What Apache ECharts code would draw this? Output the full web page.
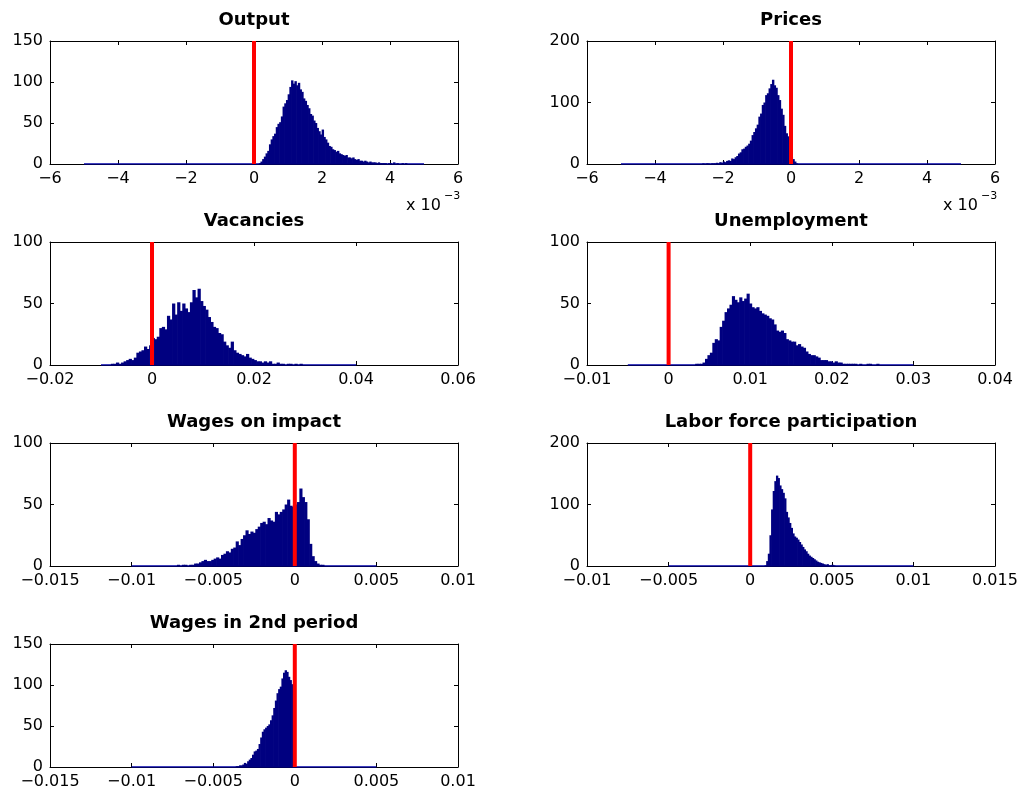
<!DOCTYPE html>
<html><head><meta charset="utf-8">
<script src="https://cdn.jsdelivr.net/npm/echarts@6/dist/echarts.min.js"></script>
<style>html,body{margin:0;padding:0;background:#fff}#c{width:1027px;height:794px}</style>
</head><body><div id="c"></div>
<script>
// ---------- data (histogram counts) ----------
const titles = ['Output','Prices','Vacancies','Unemployment','Wages on impact','Labor force participation','Wages in 2nd period'];

const outputStart = 0.00015, outputWidth = 0.00005;
const outputCounts = [1,3,6,9,13,16,24,30,34,37,45,49,51,58,70,74,78,85,94,102,98,101,96,99,91,88,80,77,72,68,61,59,53,50,44,40,36,42,33,30,26,22,21,18,17,15,16,13,12,11,10,11,8,8,7,8,6,5,6,4,4,3,4,3,2,3,2,2,2,1,2,1,1,1,1,0,1,1,0,2,0,1,0,0,1,0,1];

const pricesStart = -0.0026, pricesWidth = 0.00005;
const pricesCounts = [1,0,1,1,0,1,1,1,2,1,3,2,4,3,5,6,5,9,8,11,13,17,19,24,25,28,30,33,38,47,52,58,64,77,82,96,100,112,115,123,130,137,128,124,112,104,90,80,62,50,45,42,12,8,4,1];

const vacStart = -0.0085, vacWidth = 0.0005;
const vacCounts = [0,1,1,2,1,2,3,4,5,4,6,10,11,12,15,13,16,22,21,23,30,31,29,40,37,50,41,51,44,50,46,43,51,61,55,62,52,48,45,39,35,31,30,26,25,19,16,14,19,12,10,9,8,7,9,6,5,4,3,3,2,3,2,3,1,1,2,1,1,0,1,1,0,1,0,1,0];

const unempStart = 0.0033, unempWidth = 0.0003;
const unempCounts = [1,1,1,2,5,8,10,18,21,20,31,36,43,46,49,56,53,51,55,52,54,58,50,47,46,47,44,42,41,40,38,37,33,28,27,28,26,21,20,19,19,16,17,15,14,11,9,8,8,7,6,4,4,4,3,3,2,3,2,2,1,1,1,1,1,1,0,1,0,0,1,1,0,0,1];

const wageImpStart = -0.00735, wageImpWidth = 0.00015;
const wageImpCounts = [0,1,0,1,1,0,1,1,2,2,3,4,5,4,4,5,6,7,6,9,10,12,11,14,15,20,17,22,25,29,26,28,27,30,32,35,36,34,39,37,36,44,42,44,46,50,54,49,48,50,52,63,56,52,38,18,8,4,2,1,1];

const lfpStart = 0.0009, lfpWidth = 0.0001;
const lfpCounts = [1,8,20,50,92,122,138,147,143,131,125,119,110,88,79,70,62,53,48,46,43,39,35,31,27,24,20,17,15,13,11,9,7,6,5,4,3,2,3,1,1,2,1];

const wage2Start = -0.0037, wage2Width = 0.0001;
const wage2Counts = [0,1,1,2,2,3,5,4,7,9,11,15,19,20,22,28,36,43,46,48,50,52,57,63,72,81,90,95,98,108,115,118,116,110,106,101,98];

// axis ranges / ticks
const xMins  = [-0.006,-0.006,-0.02,-0.01,-0.015,-0.01,-0.015];
const xMaxs  = [0.006,0.006,0.06,0.04,0.01,0.015,0.01];
const xSteps = [0.002,0.002,0.02,0.01,0.005,0.005,0.005];
const xLabelScale = [1000,1000,1,1,1,1,1];
const yMaxs  = [150,200,100,100,100,200,150];
const ySteps = [50,100,50,50,50,100,50];
// range covered by the histogram bins (zero-height bins show as baseline)
const baseFrom = [-0.005,-0.005,-0.01,-0.005,-0.01,-0.005,-0.01];
const baseTo   = [0.005,0.005,0.04,0.03,0.005,0.01,0.005];
const refLine = 0;

const starts = [outputStart,pricesStart,vacStart,unempStart,wageImpStart,lfpStart,wage2Start];
const widths = [outputWidth,pricesWidth,vacWidth,unempWidth,wageImpWidth,lfpWidth,wage2Width];
const countsList = [outputCounts,pricesCounts,vacCounts,unempCounts,wageImpCounts,lfpCounts,wage2Counts];

// ---------- layout ----------
const lefts = [50,587,50,587,50,587,50];
const tops  = [41,41,242,242,443,443,644];
const PW = 408, PH = 123;
const FONT = 'DejaVu Sans';
const BAR = '#000080';

function fmt(v, s) {
  const n = Math.round(v * s * 1e6) / 1e6;
  return String(n).replace('-', '\u2212');
}

const grid = [], xAxis = [], yAxis = [], series = [], graphic = [];
titles.forEach((t, i) => {
  grid.push({left: lefts[i], top: tops[i], width: PW, height: PH, show: false});
  const common = () => ({
    axisLine: {show: true, onZero: false, lineStyle: {color: '#000', width: 1}},
    axisTick: {show: true, inside: true, length: 4, lineStyle: {color: '#000'}},
    splitLine: {show: false}
  });
  xAxis.push(Object.assign({type: 'value', gridIndex: i, position: 'bottom', min: xMins[i], max: xMaxs[i], interval: xSteps[i],
    axisLabel: {show: true, margin: 7, color: '#000', fontFamily: FONT, fontSize: 16, showMinLabel: true, showMaxLabel: true,
      formatter: (v) => fmt(v, xLabelScale[i])}}, common()));
  xAxis.push(Object.assign({type: 'value', gridIndex: i, position: 'top', min: xMins[i], max: xMaxs[i], interval: xSteps[i],
    axisLabel: {show: false}}, common()));
  yAxis.push(Object.assign({type: 'value', gridIndex: i, position: 'left', min: 0, max: yMaxs[i], interval: ySteps[i],
    axisLabel: {show: true, margin: 7, color: '#000', fontFamily: FONT, fontSize: 16}}, common()));
  yAxis.push(Object.assign({type: 'value', gridIndex: i, position: 'right', min: 0, max: yMaxs[i], interval: ySteps[i],
    axisLabel: {show: false}}, common()));

  const xi = 2 * i, yi = 2 * i;
  // invisible series so the top/right axes are bound to data
  series.push({type: 'line', xAxisIndex: xi + 1, yAxisIndex: yi + 1, data: [], silent: true, animation: false});
  series.push({type: 'line', xAxisIndex: xi, yAxisIndex: yi, data: [[baseFrom[i], 0], [baseTo[i], 0]],
    symbol: 'none', lineStyle: {color: '#0000a8', width: 1.6}, z: 2, silent: true, animation: false});
  const rows = countsList[i].map((c, k) => [starts[i] + k * widths[i], starts[i] + (k + 1) * widths[i], c]);
  series.push({type: 'custom', xAxisIndex: xi, yAxisIndex: yi, data: rows, encode: {x: [0, 1], y: 2}, clip: true, z: 3,
    silent: true, animation: false,
    renderItem: function (params, api) {
      if (api.value(2) <= 0) return null;
      const a = api.coord([api.value(0), api.value(2)]);
      const b = api.coord([api.value(1), 0]);
      return {type: 'rect', shape: {x: a[0] - 0.35, y: a[1], width: b[0] - a[0] + 0.7, height: b[1] - a[1]},
        style: {fill: BAR}};
    }});
  series.push({type: 'line', xAxisIndex: xi, yAxisIndex: yi, data: [[refLine, 0], [refLine, yMaxs[i]]],
    symbol: 'none', lineStyle: {color: '#ff0000', width: 4}, z: 4, silent: true, animation: false});

  graphic.push({type: 'text', x: lefts[i] + PW / 2, y: tops[i] - 21,
    style: {text: t, font: 'bold 18px "' + FONT + '"', fill: '#000', textAlign: 'center', textVerticalAlign: 'middle'}});
});
// exponent multipliers under the first row
[0, 1].forEach(i => {
  graphic.push({type: 'text', x: lefts[i] + PW - 52, y: tops[i] + PH + 34,
    style: {text: 'x 10', font: '16px "' + FONT + '"', fill: '#000'}});
  graphic.push({type: 'text', x: lefts[i] + PW - 14, y: tops[i] + PH + 27,
    style: {text: '\u22123', font: '11px "' + FONT + '"', fill: '#000'}});
});

const chart = echarts.init(document.getElementById('c'), null, {renderer: 'canvas'});
chart.setOption({animation: false, backgroundColor: '#fff', grid, xAxis, yAxis, series, graphic});
</script></body></html>
